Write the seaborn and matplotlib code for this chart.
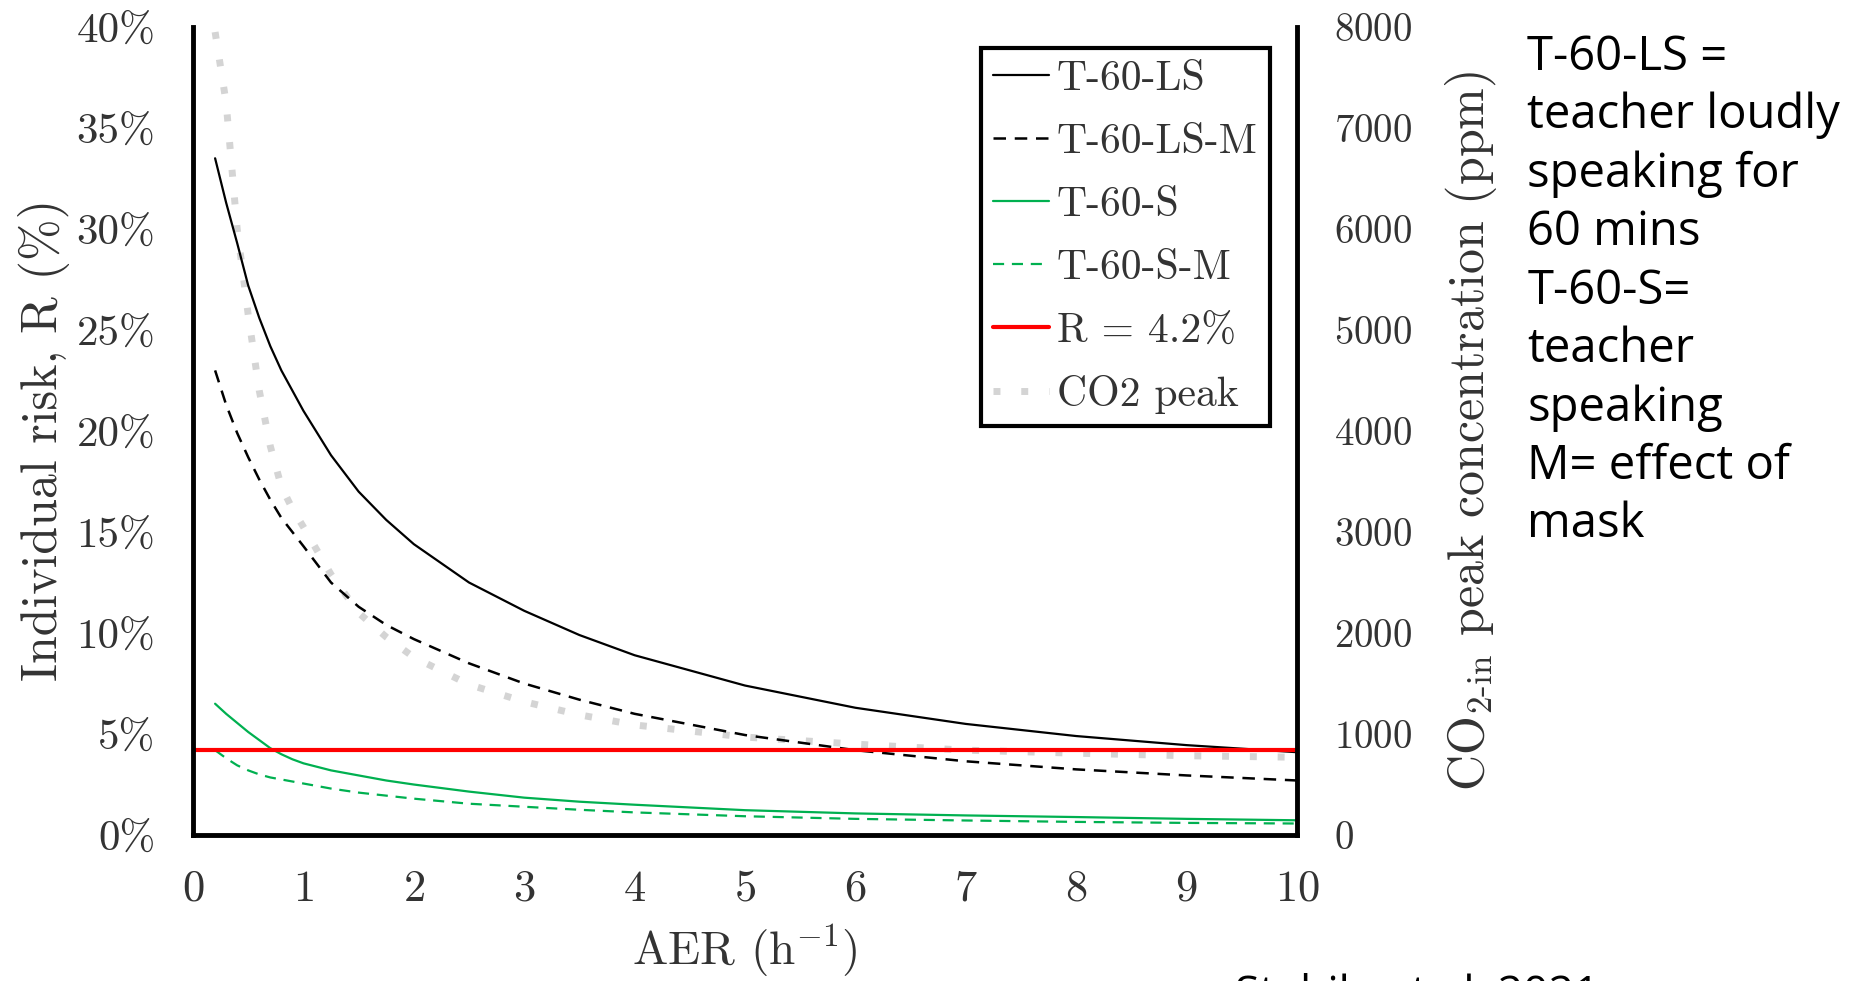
import matplotlib
matplotlib.use("Agg")
import matplotlib.pyplot as plt
import seaborn as sns
import pandas as pd
from matplotlib.ticker import FuncFormatter, MultipleLocator

# DATA

aer = [0.2, 0.3, 0.4, 0.5, 0.6, 0.7, 0.8, 0.9, 1.0, 1.25, 1.5, 1.75, 2.0,
       2.5, 3.0, 3.5, 4.0, 5.0, 6.0, 7.0, 8.0, 9.0, 10.0]

# individual risk R (%)
risk_t60_ls = [33.5, 31.3, 29.3, 27.2, 25.6, 24.2, 23.0, 22.0, 21.0, 18.8, 17.0, 15.6, 14.4,
               12.5, 11.1, 9.9, 8.9, 7.4, 6.3, 5.5, 4.9, 4.45, 4.1]
risk_t60_ls_m = [23.0, 21.3, 19.9, 18.7, 17.6, 16.6, 15.7, 15.0, 14.3, 12.5, 11.3, 10.4, 9.7,
                 8.5, 7.5, 6.7, 6.0, 4.95, 4.2, 3.65, 3.25, 2.95, 2.7]
risk_t60_s = [6.5, 6.0, 5.55, 5.1, 4.7, 4.3, 4.0, 3.75, 3.55, 3.2, 2.95, 2.7, 2.5,
              2.15, 1.85, 1.65, 1.5, 1.23, 1.07, 0.97, 0.89, 0.8, 0.73]
risk_t60_s_m = [4.2, 3.8, 3.45, 3.2, 3.0, 2.85, 2.75, 2.65, 2.55, 2.3, 2.1, 1.95, 1.8,
                1.55, 1.4, 1.25, 1.12, 0.93, 0.8, 0.72, 0.65, 0.6, 0.57]

# CO2 peak concentration (ppm), right axis
co2_peak = [7950, 7250, 6000, 5150, 4400, 3850, 3450, 3230, 3050, 2580, 2200, 1960, 1760,
            1490, 1320, 1190, 1090, 970, 900, 840, 810, 785, 770]

risk_threshold = 4.2

x_ticks = list(range(0, 11))
note_text = ("T-60-LS =\nteacher loudly\nspeaking for\n60 mins\nT-60-S=\n"
             "teacher\nspeaking\nM= effect of\nmask")
citation = "Stabile et al. 2021"

df = pd.DataFrame({
    "aer": aer,
    "ls": risk_t60_ls,
    "ls_m": risk_t60_ls_m,
    "s": risk_t60_s,
    "s_m": risk_t60_s_m,
    "co2": co2_peak,
})

# STYLE

sns.set_theme(style="white")
plt.rcParams["font.family"] = ["cmr10", "DejaVu Serif"]
plt.rcParams["mathtext.fontset"] = "cm"
plt.rcParams["axes.formatter.use_mathtext"] = True
plt.rcParams["axes.unicode_minus"] = False

text_color = "#333333"
green = "#00b050"

fig = plt.figure(figsize=(18.56, 9.81), dpi=100)
ax = fig.add_axes([0.104, 0.1488, 0.5948, 0.8237])
ax2 = ax.twinx()

# CO2 on the right axis (drawn underneath)
sns.lineplot(data=df, x="aer", y="co2", ax=ax2, color="#d4d4d4",
             linewidth=5, linestyle=(0, (1, 3)), legend=False,
             label="CO2 peak")

# risk curves
sns.lineplot(data=df, x="aer", y="ls", ax=ax, color="black",
             linewidth=1.6, legend=False, label="T-60-LS")
sns.lineplot(data=df, x="aer", y="ls_m", ax=ax, color="black",
             linewidth=1.8, linestyle=(0, (5, 3.5)), legend=False,
             label="T-60-LS-M")
sns.lineplot(data=df, x="aer", y="s", ax=ax, color=green,
             linewidth=1.6, legend=False, label="T-60-S")
sns.lineplot(data=df, x="aer", y="s_m", ax=ax, color=green,
             linewidth=1.6, linestyle=(0, (5, 3.5)), legend=False,
             label="T-60-S-M")
ax.axhline(risk_threshold, color="#ff0000", linewidth=3,
           label="R = 4.2%")

ax.set_zorder(ax2.get_zorder() + 1)
ax.patch.set_visible(False)

# AXES

ax.set_xlim(0, 10)
ax.set_ylim(0, 40)
ax2.set_ylim(0, 8000)
ax.set_xticks(x_ticks)
ax.yaxis.set_major_locator(MultipleLocator(5))
ax.yaxis.set_major_formatter(FuncFormatter(lambda v, p: f"{v:.0f}%"))
ax2.yaxis.set_major_locator(MultipleLocator(1000))

ax.tick_params(axis="y", length=0, pad=27, labelsize=31, labelcolor=text_color)
ax.tick_params(axis="x", length=0, pad=25, labelsize=32, labelcolor=text_color)
ax2.tick_params(axis="y", length=0, pad=27, labelsize=28, labelcolor=text_color)

for side in ["left", "bottom", "right"]:
    ax.spines[side].set_visible(True)
    ax.spines[side].set_color("black")
    ax.spines[side].set_linewidth(3.5)
ax.spines["top"].set_visible(False)
for side in ax2.spines:
    ax2.spines[side].set_visible(False)

ax.set_xlabel(r"AER (h$^{-1}$)", fontsize=34, color=text_color)
ax.xaxis.set_label_coords(0.5, -0.108)
ax.set_ylabel("Individual risk, R (%)", fontsize=36, color=text_color)
ax.yaxis.set_label_coords(-0.111, 0.489)
ax2.set_ylabel(r"CO$_{2\text{-in}}$ peak concentration (ppm)", fontsize=36,
               color=text_color)
ax2.yaxis.set_label_coords(1.132, 0.5)

# LEGEND

h1, l1 = ax.get_legend_handles_labels()
h2, l2 = ax2.get_legend_handles_labels()
leg = ax.legend(h1 + h2, l1 + l2, loc="upper right",
                bbox_to_anchor=(0.9755, 0.974), borderaxespad=0,
                frameon=True, fancybox=False, edgecolor="black",
                framealpha=1, fontsize=30, handlelength=1.35,
                handletextpad=0.17, borderpad=0.3, labelspacing=0.61)
leg.get_frame().set_linewidth(3)
for t in leg.get_texts():
    t.set_color(text_color)

# SIDE NOTES

fig.text(0.823, 0.966, note_text, fontsize=34, family="Open Sans",
         va="top", ha="left", linespacing=1.30, color="black")
fig.text(0.6654, -0.0265, citation, fontsize=32, family="Open Sans",
         va="baseline", ha="left", color="black")

fig.savefig("out.png", dpi=100)
